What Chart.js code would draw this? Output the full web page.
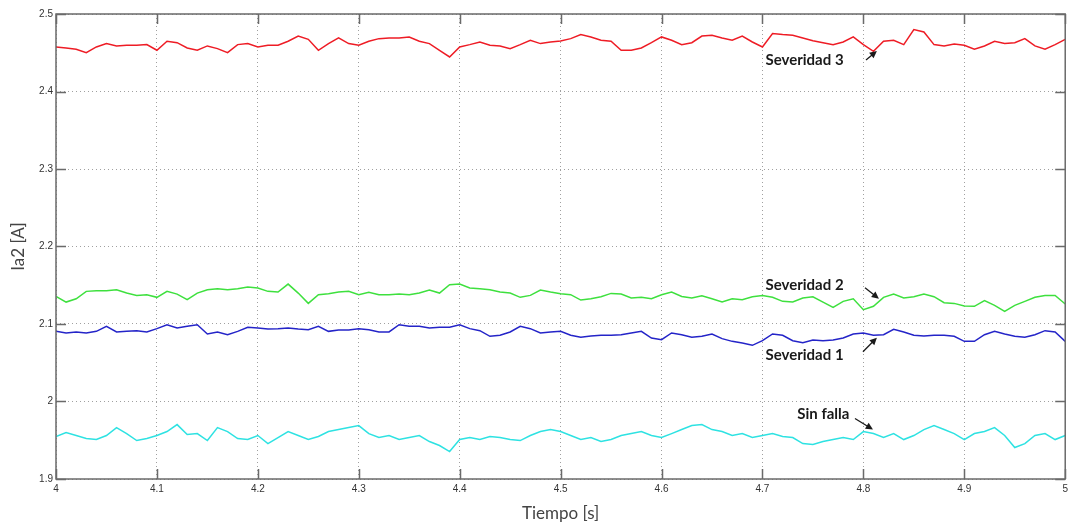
<!DOCTYPE html>
<html lang="es">
<head>
<meta charset="utf-8">
<title>Ia2 - Tiempo</title>
<script src="https://cdn.jsdelivr.net/npm/chart.js@4.4.1/dist/chart.umd.min.js"></script>
<style>
  html, body { margin: 0; padding: 0; background: #fff; }
  #wrap { width: 1072px; height: 526px; }
</style>
</head>
<body>
<div id="wrap"><canvas id="ia2Chart" width="1072" height="526"></canvas></div>
<script>
// muestreo cada 0.01 s entre 4 y 5 s
const tiempo = Array.from({ length: 101 }, (_, i) => Math.round((4 + i * 0.01) * 100) / 100);

const severidad3 = [
  2.4575, 2.4562, 2.4545, 2.4502, 2.4575, 2.4618, 2.4588, 2.4596, 2.4596, 2.4605,
  2.4532, 2.4648, 2.4630, 2.4562, 2.4532, 2.4588, 2.4553, 2.4502, 2.4605, 2.4618,
  2.4575, 2.4596, 2.4596, 2.4648, 2.4716, 2.4673, 2.4532, 2.4618, 2.4691, 2.4618,
  2.4596, 2.4648, 2.4682, 2.4691, 2.4691, 2.4704, 2.4648, 2.4618, 2.4532, 2.4446,
  2.4575, 2.4605, 2.4639, 2.4596, 2.4588, 2.4553, 2.4605, 2.4661, 2.4618, 2.4639,
  2.4652, 2.4682, 2.4734, 2.4704, 2.4661, 2.4648, 2.4532, 2.4532, 2.4562, 2.4630,
  2.4704, 2.4661, 2.4605, 2.4630, 2.4716, 2.4725, 2.4691, 2.4661, 2.4716, 2.4639,
  2.4575, 2.4747, 2.4734, 2.4725, 2.4691, 2.4656, 2.4630, 2.4605, 2.4639, 2.4704,
  2.4605, 2.4519, 2.4648, 2.4661, 2.4605, 2.4800, 2.4768, 2.4605, 2.4588, 2.4613,
  2.4596, 2.4545, 2.4588, 2.4648, 2.4618, 2.4630, 2.4682, 2.4588, 2.4545, 2.4605,
  2.4673
];

const severidad2 = [
  2.1356, 2.1283, 2.1326, 2.1421, 2.1429, 2.1429, 2.1442, 2.1399, 2.1369, 2.1378,
  2.1344, 2.1421, 2.1386, 2.1313, 2.1399, 2.1442, 2.1455, 2.1442, 2.1455, 2.1477,
  2.1464, 2.1421, 2.1412, 2.1515, 2.1399, 2.1266, 2.1378, 2.1391, 2.1412, 2.1421,
  2.1378, 2.1408, 2.1378, 2.1378, 2.1386, 2.1378, 2.1399, 2.1438, 2.1399, 2.1507,
  2.1515, 2.1464, 2.1455, 2.1442, 2.1412, 2.1399, 2.1344, 2.1369, 2.1438, 2.1412,
  2.1390, 2.1378, 2.1309, 2.1326, 2.1352, 2.1395, 2.1386, 2.1335, 2.1344, 2.1326,
  2.1378, 2.1412, 2.1356, 2.1335, 2.1365, 2.1326, 2.1283, 2.1326, 2.1313, 2.1352,
  2.1369, 2.1344, 2.1292, 2.1283, 2.1335, 2.1352, 2.1283, 2.1215, 2.1292, 2.1326,
  2.1185, 2.1228, 2.1344, 2.1386, 2.1335, 2.1352, 2.1386, 2.1352, 2.1275, 2.1266,
  2.1232, 2.1228, 2.1301, 2.1240, 2.1163, 2.1240, 2.1292, 2.1344, 2.1369, 2.1369,
  2.1258
];

const severidad1 = [
  2.0905, 2.0884, 2.0897, 2.0884, 2.0905, 2.0970, 2.0897, 2.0905, 2.0914, 2.0897,
  2.0940, 2.0991, 2.0948, 2.0970, 2.0991, 2.0871, 2.0897, 2.0862, 2.0905, 2.0957,
  2.0948, 2.0935, 2.0940, 2.0948, 2.0935, 2.0927, 2.0970, 2.0905, 2.0922, 2.0922,
  2.0940, 2.0927, 2.0897, 2.0897, 2.0991, 2.0970, 2.0970, 2.0948, 2.0957, 2.0957,
  2.0991, 2.0940, 2.0914, 2.0841, 2.0854, 2.0897, 2.0970, 2.0940, 2.0884, 2.0897,
  2.0905, 2.0854, 2.0828, 2.0845, 2.0854, 2.0854, 2.0862, 2.0884, 2.0905, 2.0819,
  2.0798, 2.0884, 2.0862, 2.0828, 2.0841, 2.0871, 2.0811, 2.0776, 2.0755, 2.0725,
  2.0785, 2.0871, 2.0854, 2.0785, 2.0759, 2.0794, 2.0785, 2.0794, 2.0819, 2.0871,
  2.0884, 2.0854, 2.0862, 2.0931, 2.0897, 2.0854, 2.0845, 2.0854, 2.0854, 2.0841,
  2.0776, 2.0776, 2.0862, 2.0905, 2.0871, 2.0841, 2.0828, 2.0862, 2.0914, 2.0897,
  2.0776
];

const sinFalla = [
  1.9548, 1.9599, 1.9561, 1.9522, 1.9509, 1.9561, 1.9664, 1.9586, 1.9496, 1.9522,
  1.9561, 1.9612, 1.9702, 1.9573, 1.9586, 1.9496, 1.9664, 1.9612, 1.9522, 1.9509,
  1.9561, 1.9457, 1.9535, 1.9612, 1.9561, 1.9509, 1.9548, 1.9612, 1.9638, 1.9664,
  1.9689, 1.9586, 1.9535, 1.9561, 1.9509, 1.9535, 1.9561, 1.9483, 1.9432, 1.9354,
  1.9509, 1.9535, 1.9509, 1.9548, 1.9535, 1.9509, 1.9496, 1.9561, 1.9612, 1.9638,
  1.9612, 1.9561, 1.9509, 1.9535, 1.9483, 1.9509, 1.9561, 1.9586, 1.9612, 1.9561,
  1.9535, 1.9586, 1.9638, 1.9689, 1.9702, 1.9638, 1.9612, 1.9561, 1.9586, 1.9535,
  1.9561, 1.9586, 1.9548, 1.9535, 1.9457, 1.9444, 1.9483, 1.9509, 1.9535, 1.9509,
  1.9612, 1.9586, 1.9535, 1.9586, 1.9509, 1.9561, 1.9638, 1.9689, 1.9638, 1.9586,
  1.9509, 1.9586, 1.9612, 1.9664, 1.9561, 1.9406, 1.9457, 1.9561, 1.9586, 1.9509,
  1.9561
];

const ticksX = ['4', '4.1', '4.2', '4.3', '4.4', '4.5', '4.6', '4.7', '4.8', '4.9', '5'];
const ticksY = ['1.9', '2', '2.1', '2.2', '2.3', '2.4', '2.5'];

// etiquetas con flecha (coordenadas en unidades de los ejes)
const etiquetas = [
  { texto: 'Severidad 3', x: 4.703, y: 2.4407, desde: [4.8026, 2.4407], hasta: [4.8134, 2.4523] },
  { texto: 'Severidad 2', x: 4.703, y: 2.1507, desde: [4.8016, 2.1468], hasta: [4.8154, 2.1326] },
  { texto: 'Severidad 1', x: 4.703, y: 2.0592, desde: [4.7996, 2.0643], hasta: [4.8134, 2.0824] },
  { texto: 'Sin falla', x: 4.7345, y: 1.9831, desde: [4.7917, 1.9780], hasta: [4.8095, 1.9638] }
];

const puntos = serie => serie.map((v, i) => ({ x: tiempo[i], y: v }));

// marco y marcas hacia adentro, como en MATLAB
const marcoMatlab = {
  id: 'marcoMatlab',
  afterDatasetsDraw(chart) {
    const { ctx, chartArea: a, scales: { x, y } } = chart;
    const largo = 10;
    ctx.save();
    ctx.strokeStyle = '#6a6a6a';
    ctx.lineWidth = 1.5;
    ctx.strokeRect(a.left, a.top, a.right - a.left, a.bottom - a.top);
    ctx.beginPath();
    x.ticks.forEach(t => {
      const px = Math.round(x.getPixelForValue(t.value)) + 0.5;
      ctx.moveTo(px, a.bottom); ctx.lineTo(px, a.bottom - largo);
      ctx.moveTo(px, a.top); ctx.lineTo(px, a.top + largo);
    });
    y.ticks.forEach(t => {
      const py = Math.round(y.getPixelForValue(t.value)) + 0.5;
      ctx.moveTo(a.left, py); ctx.lineTo(a.left + largo, py);
      ctx.moveTo(a.right, py); ctx.lineTo(a.right - largo, py);
    });
    ctx.stroke();
    ctx.restore();
  }
};

const flechas = {
  id: 'flechas',
  afterDatasetsDraw(chart) {
    const { ctx, scales: { x, y } } = chart;
    ctx.save();
    ctx.font = 'bold 15px Lato, "Open Sans", sans-serif';
    ctx.fillStyle = '#1a1a1a';
    ctx.strokeStyle = '#1a1a1a';
    ctx.textBaseline = 'middle';
    ctx.textAlign = 'left';
    etiquetas.forEach(e => {
      ctx.fillText(e.texto, x.getPixelForValue(e.x), y.getPixelForValue(e.y));
      const x0 = x.getPixelForValue(e.desde[0]), y0 = y.getPixelForValue(e.desde[1]);
      const x1 = x.getPixelForValue(e.hasta[0]), y1 = y.getPixelForValue(e.hasta[1]);
      const ang = Math.atan2(y1 - y0, x1 - x0);
      ctx.lineWidth = 1.3;
      ctx.beginPath();
      ctx.moveTo(x0, y0);
      ctx.lineTo(x1 - 4 * Math.cos(ang), y1 - 4 * Math.sin(ang));
      ctx.stroke();
      ctx.beginPath();
      ctx.moveTo(x1, y1);
      ctx.lineTo(x1 - 8 * Math.cos(ang - 0.45), y1 - 8 * Math.sin(ang - 0.45));
      ctx.lineTo(x1 - 8 * Math.cos(ang + 0.45), y1 - 8 * Math.sin(ang + 0.45));
      ctx.closePath();
      ctx.fill();
    });
    ctx.restore();
  }
};

const linea = (datos, color) => ({
  data: puntos(datos),
  borderColor: color,
  borderWidth: 1.5,
  pointRadius: 0,
  tension: 0,
  fill: false
});

const ctx = document.getElementById('ia2Chart').getContext('2d');
new Chart(ctx, {
  type: 'line',
  data: {
    datasets: [
      linea(severidad3, '#ee1c25'),
      linea(severidad2, '#3ee03e'),
      linea(severidad1, '#2424c8'),
      linea(sinFalla, '#2ee2e2')
    ]
  },
  options: {
    responsive: false,
    animation: false,
    layout: { padding: { top: 14, right: 3, left: 0, bottom: 0 } },
    plugins: { legend: { display: false }, tooltip: { enabled: false } },
    scales: {
      x: {
        type: 'linear',
        min: 4,
        max: 5,
        afterFit: s => { s.height = 47; },
        ticks: {
          stepSize: 0.1,
          autoSkip: false,
          maxRotation: 0,
          padding: 4,
          color: '#333',
          font: { family: '"Liberation Sans", Arial, sans-serif', size: 10 },
          callback: (v, i) => ticksX[i]
        },
        grid: { color: '#a0a0a0', lineWidth: 1, drawTicks: false, borderDash: [1, 3] },
        border: { display: false, dash: [1, 3] },
        title: {
          display: true,
          text: 'Tiempo [s]',
          color: '#444',
          font: { family: 'Lato, "Open Sans", sans-serif', size: 17 },
          padding: { top: 0, bottom: 2 }
        }
      },
      y: {
        min: 1.9,
        max: 2.5,
        afterFit: s => { s.width = 56; },
        ticks: {
          stepSize: 0.1,
          autoSkip: false,
          padding: 3,
          color: '#333',
          font: { family: '"Liberation Sans", Arial, sans-serif', size: 10 },
          callback: (v, i) => ticksY[i]
        },
        grid: { color: '#a0a0a0', lineWidth: 1, drawTicks: false, borderDash: [1, 3] },
        border: { display: false, dash: [1, 3] },
        title: {
          display: true,
          text: 'Ia2 [A]',
          color: '#444',
          font: { family: 'Lato, "Open Sans", sans-serif', size: 17 },
          padding: { top: 8, bottom: 0 }
        }
      }
    }
  },
  plugins: [marcoMatlab, flechas]
});
</script>
</body>
</html>
